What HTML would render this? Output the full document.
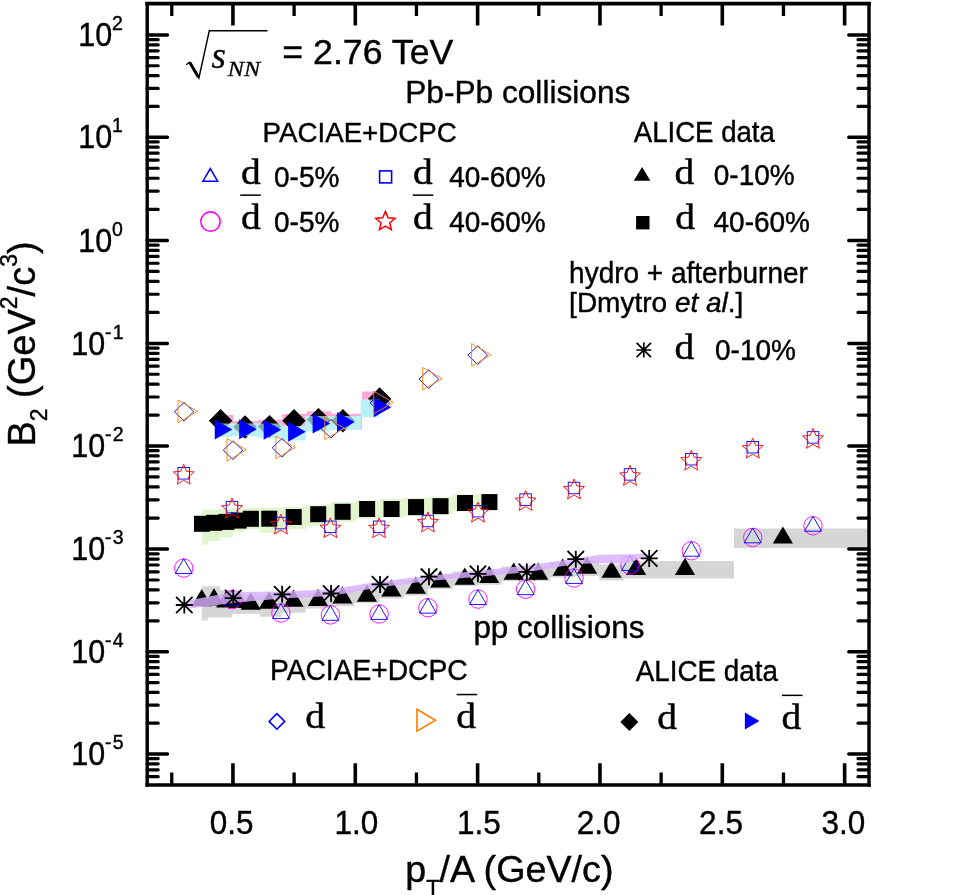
<!DOCTYPE html>
<html lang="en">
<head>
<meta charset="utf-8">
<title>B2 vs pT/A</title>
<style>
html,body{margin:0;padding:0;background:#fff;}
body{width:969px;height:895px;overflow:hidden;}
svg{display:block;}
text{white-space:pre;}
</style>
</head>
<body>
<svg width="969" height="895" viewBox="0 0 969 895">
<defs><clipPath id="clipplot"><rect x="147.2" y="3.7" width="721.8" height="781.3"/></clipPath></defs>
<rect x="0" y="0" width="969" height="895" fill="#fff"/>
<g id="plot" clip-path="url(#clipplot)">
<polygon points="202.25,509.8 208.37,509.8 208.37,509.5 220.6,509.5 220.6,509 232.84,509 232.84,508.5 245.07,508.5 245.07,508 260.36,508 260.36,507.6 281.77,507.6 281.77,506.7 306.24,506.7 306.24,504.8 330.71,504.8 330.71,502.3 355.18,502.3 355.18,500.4 379.65,500.4 379.65,498.8 404.11,498.8 404.11,498 428.58,498 428.58,496.7 453.05,496.7 453.05,494.4 477.52,494.4 477.52,493.8 489.75,493.8 489.75,509 477.52,509 477.52,511 453.05,511 453.05,514.2 428.58,514.2 428.58,516 404.11,516 404.11,517.5 379.65,517.5 379.65,519 355.18,519 355.18,522.1 330.71,522.1 330.71,526 306.24,526 306.24,529 281.77,529 281.77,532.7 260.36,532.7 260.36,529 245.07,529 245.07,531.7 232.84,531.7 232.84,537.3 220.6,537.3 220.6,541 208.37,541 208.37,544.7 202.25,544.7" fill="#e3f5cf"/>
<polygon points="201.75,586.2 207.87,586.2 207.87,586.2 220.1,586.2 220.1,590.3 232.34,590.3 232.34,594.8 244.57,594.8 244.57,596.5 259.86,596.5 259.86,595.6 281.27,595.6 281.27,593.5 305.74,593.5 305.74,592.7 330.21,592.7 330.21,590.2 354.68,590.2 354.68,588.5 379.15,588.5 379.15,583.3 403.61,583.3 403.61,580.6 428.08,580.6 428.08,574.4 452.55,574.4 452.55,571.5 477.02,571.5 477.02,569.8 501.49,569.8 501.49,566.5 525.95,566.5 525.95,566.5 550.42,566.5 550.42,562.5 574.89,562.5 574.89,560.5 599.36,560.5 599.36,564.6 623.83,564.6 623.83,561.4 660.53,561.4 660.53,560.9 733.93,560.9 733.93,528.5 869,528.5 869,548.1 733.93,548.1 733.93,578.5 660.53,578.5 660.53,578.4 623.83,578.4 623.83,580.5 599.36,580.5 599.36,575.9 574.89,575.9 574.89,577.5 550.42,577.5 550.42,581 525.95,581 525.95,581 501.49,581 501.49,584.7 477.02,584.7 477.02,586 452.55,586 452.55,588.9 428.08,588.9 428.08,595.5 403.61,595.5 403.61,598.4 379.15,598.4 379.15,603 354.68,603 354.68,606.3 330.21,606.3 330.21,608.5 305.74,608.5 305.74,612.8 281.27,612.8 281.27,616.8 259.86,616.8 259.86,613.8 244.57,613.8 244.57,613.8 232.34,613.8 232.34,617.5 220.1,617.5 220.1,617.5 207.87,617.5 207.87,620.4 201.75,620.4" fill="#d6d6d6"/>
<polygon points="201.75,589.1 211.85,606.3 191.65,606.3" fill="#000"/>
<polygon points="213.99,588.3 224.09,605.5 203.89,605.5" fill="#000"/>
<polygon points="226.22,590.4 236.32,607.6 216.12,607.6" fill="#000"/>
<polygon points="238.45,590.8 248.55,608 228.35,608" fill="#000"/>
<polygon points="250.69,592.5 260.79,609.7 240.59,609.7" fill="#000"/>
<polygon points="269.04,591.6 279.14,608.8 258.94,608.8" fill="#000"/>
<polygon points="293.51,589.5 303.61,606.7 283.41,606.7" fill="#000"/>
<polygon points="317.98,588.7 328.08,605.9 307.88,605.9" fill="#000"/>
<polygon points="342.44,586.2 352.54,603.4 332.34,603.4" fill="#000"/>
<polygon points="366.91,584.5 377.01,601.7 356.81,601.7" fill="#000"/>
<polygon points="391.38,579.3 401.48,596.5 381.28,596.5" fill="#000"/>
<polygon points="415.85,576.6 425.95,593.8 405.75,593.8" fill="#000"/>
<polygon points="440.32,570.4 450.42,587.6 430.22,587.6" fill="#000"/>
<polygon points="464.78,567.5 474.88,584.7 454.68,584.7" fill="#000"/>
<polygon points="489.25,565.8 499.35,583 479.15,583" fill="#000"/>
<polygon points="513.72,562.5 523.82,579.7 503.62,579.7" fill="#000"/>
<polygon points="538.19,562.5 548.29,579.7 528.09,579.7" fill="#000"/>
<polygon points="562.66,558.5 572.76,575.7 552.56,575.7" fill="#000"/>
<polygon points="587.12,556.5 597.22,573.7 577.02,573.7" fill="#000"/>
<polygon points="611.59,560.6 621.69,577.8 601.49,577.8" fill="#000"/>
<polygon points="636.06,557.7 646.16,574.9 625.96,574.9" fill="#000"/>
<polygon points="685,557.8 695.1,575 674.9,575" fill="#000"/>
<polygon points="782.87,526.4 792.97,543.6 772.77,543.6" fill="#000"/>
<circle cx="183.7" cy="568.1" r="9.2" fill="none" stroke="#f0f" stroke-width="0.9"/>
<polygon points="183.7,558.73 192.2,573.53 175.2,573.53" fill="none" stroke="#00f" stroke-width="0.9" stroke-linejoin="miter"/>
<circle cx="232" cy="599.7" r="9.2" fill="none" stroke="#f0f" stroke-width="0.9"/>
<polygon points="232,590.33 240.5,605.13 223.5,605.13" fill="none" stroke="#00f" stroke-width="0.9" stroke-linejoin="miter"/>
<circle cx="280.9" cy="613" r="9.2" fill="none" stroke="#f0f" stroke-width="0.9"/>
<polygon points="280.9,603.63 289.4,618.43 272.4,618.43" fill="none" stroke="#00f" stroke-width="0.9" stroke-linejoin="miter"/>
<circle cx="330.4" cy="614.9" r="9.2" fill="none" stroke="#f0f" stroke-width="0.9"/>
<polygon points="330.4,605.53 338.9,620.33 321.9,620.33" fill="none" stroke="#00f" stroke-width="0.9" stroke-linejoin="miter"/>
<circle cx="379.1" cy="614" r="9.2" fill="none" stroke="#f0f" stroke-width="0.9"/>
<polygon points="379.1,604.63 387.6,619.43 370.6,619.43" fill="none" stroke="#00f" stroke-width="0.9" stroke-linejoin="miter"/>
<circle cx="427.9" cy="607.7" r="9.2" fill="none" stroke="#f0f" stroke-width="0.9"/>
<polygon points="427.9,598.33 436.4,613.13 419.4,613.13" fill="none" stroke="#00f" stroke-width="0.9" stroke-linejoin="miter"/>
<circle cx="478" cy="599.1" r="9.2" fill="none" stroke="#f0f" stroke-width="0.9"/>
<polygon points="478,589.73 486.5,604.53 469.5,604.53" fill="none" stroke="#00f" stroke-width="0.9" stroke-linejoin="miter"/>
<circle cx="525.6" cy="589.2" r="9.2" fill="none" stroke="#f0f" stroke-width="0.9"/>
<polygon points="525.6,579.83 534.1,594.63 517.1,594.63" fill="none" stroke="#00f" stroke-width="0.9" stroke-linejoin="miter"/>
<circle cx="574" cy="578" r="9.2" fill="none" stroke="#f0f" stroke-width="0.9"/>
<polygon points="574,568.63 582.5,583.43 565.5,583.43" fill="none" stroke="#00f" stroke-width="0.9" stroke-linejoin="miter"/>
<circle cx="630" cy="565" r="9.2" fill="none" stroke="#f0f" stroke-width="0.9"/>
<polygon points="630,555.63 638.5,570.43 621.5,570.43" fill="none" stroke="#00f" stroke-width="0.9" stroke-linejoin="miter"/>
<circle cx="691.3" cy="550.8" r="9.2" fill="none" stroke="#f0f" stroke-width="0.9"/>
<polygon points="691.3,541.43 699.8,556.23 682.8,556.23" fill="none" stroke="#00f" stroke-width="0.9" stroke-linejoin="miter"/>
<circle cx="752.7" cy="537.4" r="9.2" fill="none" stroke="#f0f" stroke-width="0.9"/>
<polygon points="752.7,528.03 761.2,542.83 744.2,542.83" fill="none" stroke="#00f" stroke-width="0.9" stroke-linejoin="miter"/>
<circle cx="813" cy="525.8" r="9.2" fill="none" stroke="#f0f" stroke-width="0.9"/>
<polygon points="813,516.43 821.5,531.23 804.5,531.23" fill="none" stroke="#00f" stroke-width="0.9" stroke-linejoin="miter"/>
<polygon points="184.4,603.5 192,599.7 232.8,592 281.8,591.5 331,589.3 379.8,581.5 428.5,575.8 478,570.8 527,565.5 575.4,558.6 600,554.8 625,554.3 648.8,554 648.8,556.5 625,563.6 600,563.3 575.4,564 527,572.3 478,576.8 428.5,581 379.8,587.3 331,596 281.8,598.5 232.8,603 192,608.2 184.4,606.5" fill="#d5aefa" fill-opacity="0.82"/>
<rect x="193.95" y="515.8" width="16" height="16" fill="#000"/>
<rect x="206.19" y="514.8" width="16" height="16" fill="#000"/>
<rect x="218.42" y="513.9" width="16" height="16" fill="#000"/>
<rect x="230.65" y="512.6" width="16" height="16" fill="#000"/>
<rect x="242.89" y="510.8" width="16" height="16" fill="#000"/>
<rect x="261.24" y="510.7" width="16" height="16" fill="#000"/>
<rect x="285.71" y="509" width="16" height="16" fill="#000"/>
<rect x="310.18" y="506.2" width="16" height="16" fill="#000"/>
<rect x="334.64" y="503.8" width="16" height="16" fill="#000"/>
<rect x="359.11" y="501" width="16" height="16" fill="#000"/>
<rect x="383.58" y="501" width="16" height="16" fill="#000"/>
<rect x="408.05" y="499.1" width="16" height="16" fill="#000"/>
<rect x="432.52" y="498.2" width="16" height="16" fill="#000"/>
<rect x="456.98" y="495" width="16" height="16" fill="#000"/>
<rect x="481.45" y="494.1" width="16" height="16" fill="#000"/>
<polygon points="221.2,414.9 233.44,414.9 233.44,421 257.91,421 257.91,419.8 282.37,419.8 282.37,414 306.84,414 306.84,411.2 331.31,411.2 331.31,413.7 361.89,413.7 361.89,391.4 380.25,391.4 380.25,408 361.89,408 361.89,429.4 331.31,429.4 331.31,428 306.84,428 306.84,430 282.37,430 282.37,435 257.91,435 257.91,435 233.44,435 233.44,430 221.2,430" fill="#ffaad6"/>
<polygon points="220,423.5 232.24,423.5 232.24,423.5 256.71,423.5 256.71,423.5 281.17,423.5 281.17,426 305.64,426 305.64,416.1 330.11,416.1 330.11,416.1 360.69,416.1 360.69,399.6 379.05,399.6 379.05,417 360.69,417 360.69,429.4 330.11,429.4 330.11,431.3 305.64,431.3 305.64,440.3 281.17,440.3 281.17,437.7 256.71,437.7 256.71,436 232.24,436 232.24,437 220,437" fill="#b9f1f6"/>
<polygon points="220.6,409 232.3,420.7 220.6,432.4 208.9,420.7" fill="#000"/>
<polygon points="245.07,415.3 256.77,427 245.07,438.7 233.37,427" fill="#000"/>
<polygon points="269.54,414.9 281.24,426.6 269.54,438.3 257.84,426.6" fill="#000"/>
<polygon points="294.01,409.1 305.71,420.8 294.01,432.5 282.31,420.8" fill="#000"/>
<polygon points="318.48,407.9 330.18,419.6 318.48,431.3 306.78,419.6" fill="#000"/>
<polygon points="342.94,409 354.64,420.7 342.94,432.4 331.24,420.7" fill="#000"/>
<polygon points="379.65,387.2 391.35,398.9 379.65,410.6 367.95,398.9" fill="#000"/>
<polygon points="220,423.5 232.24,423.5 232.24,423.5 256.71,423.5 256.71,423.5 281.17,423.5 281.17,426 305.64,426 305.64,416.1 330.11,416.1 330.11,416.1 360.69,416.1 360.69,399.6 379.05,399.6 379.05,417 360.69,417 360.69,429.4 330.11,429.4 330.11,431.3 305.64,431.3 305.64,440.3 281.17,440.3 281.17,437.7 256.71,437.7 256.71,436 232.24,436 232.24,437 220,437" fill="#b9f1f6" fill-opacity="0.7"/>
<polygon points="214.74,419.4 232.34,429.4 214.74,439.4" fill="#00f"/>
<polygon points="239.21,419.3 256.81,429.3 239.21,439.3" fill="#00f"/>
<polygon points="263.67,419.7 281.27,429.7 263.67,439.7" fill="#00f"/>
<polygon points="288.14,421.7 305.74,431.7 288.14,441.7" fill="#00f"/>
<polygon points="312.61,413.6 330.21,423.6 312.61,433.6" fill="#00f"/>
<polygon points="337.08,412 354.68,422 337.08,432" fill="#00f"/>
<polygon points="373.78,397.3 391.38,407.3 373.78,417.3" fill="#00f"/>
<polygon points="184.1,402.39 193.9,411.7 184.1,421.01 174.3,411.7" fill="none" stroke="#00f" stroke-width="0.9"/>
<polygon points="178,400.05 197.5,411.3 178,422.55" fill="none" stroke="#ff8000" stroke-width="0.9"/>
<polygon points="233.04,440.89 242.84,450.2 233.04,459.51 223.24,450.2" fill="none" stroke="#00f" stroke-width="0.9"/>
<polygon points="226.94,438.55 246.44,449.8 226.94,461.05" fill="none" stroke="#ff8000" stroke-width="0.9"/>
<polygon points="281.97,438.49 291.77,447.8 281.97,457.11 272.17,447.8" fill="none" stroke="#00f" stroke-width="0.9"/>
<polygon points="275.87,436.15 295.37,447.4 275.87,458.65" fill="none" stroke="#ff8000" stroke-width="0.9"/>
<polygon points="330.91,419.39 340.71,428.7 330.91,438.01 321.11,428.7" fill="none" stroke="#00f" stroke-width="0.9"/>
<polygon points="324.81,417.05 344.31,428.3 324.81,439.55" fill="none" stroke="#ff8000" stroke-width="0.9"/>
<polygon points="379.85,393.59 389.65,402.9 379.85,412.21 370.05,402.9" fill="none" stroke="#00f" stroke-width="0.9"/>
<polygon points="373.75,391.25 393.25,402.5 373.75,413.75" fill="none" stroke="#ff8000" stroke-width="0.9"/>
<polygon points="428.78,369.79 438.58,379.1 428.78,388.41 418.98,379.1" fill="none" stroke="#00f" stroke-width="0.9"/>
<polygon points="422.68,367.45 442.18,378.7 422.68,389.95" fill="none" stroke="#ff8000" stroke-width="0.9"/>
<polygon points="477.72,345.89 487.52,355.2 477.72,364.51 467.92,355.2" fill="none" stroke="#00f" stroke-width="0.9"/>
<polygon points="471.62,343.55 491.12,354.8 471.62,366.05" fill="none" stroke="#ff8000" stroke-width="0.9"/>
<rect x="177.95" y="467.55" width="11.5" height="11.5" fill="none" stroke="#00f" stroke-width="0.9"/>
<polygon points="183.7,464.3 186.61,471.3 194.16,471.9 188.41,476.83 190.17,484.2 183.7,480.25 177.23,484.2 178.99,476.83 173.24,471.9 180.79,471.3" fill="none" stroke="#f00" stroke-width="0.9"/>
<rect x="226.25" y="501.35" width="11.5" height="11.5" fill="none" stroke="#00f" stroke-width="0.9"/>
<polygon points="232,498.1 234.91,505.1 242.46,505.7 236.71,510.63 238.47,518 232,514.05 225.53,518 227.29,510.63 221.54,505.7 229.09,505.1" fill="none" stroke="#f00" stroke-width="0.9"/>
<rect x="275.15" y="517.35" width="11.5" height="11.5" fill="none" stroke="#00f" stroke-width="0.9"/>
<polygon points="280.9,514.1 283.81,521.1 291.36,521.7 285.61,526.63 287.37,534 280.9,530.05 274.43,534 276.19,526.63 270.44,521.7 277.99,521.1" fill="none" stroke="#f00" stroke-width="0.9"/>
<rect x="324.65" y="521.05" width="11.5" height="11.5" fill="none" stroke="#00f" stroke-width="0.9"/>
<polygon points="330.4,517.8 333.31,524.8 340.86,525.4 335.11,530.33 336.87,537.7 330.4,533.75 323.93,537.7 325.69,530.33 319.94,525.4 327.49,524.8" fill="none" stroke="#f00" stroke-width="0.9"/>
<rect x="373.35" y="521.05" width="11.5" height="11.5" fill="none" stroke="#00f" stroke-width="0.9"/>
<polygon points="379.1,517.8 382.01,524.8 389.56,525.4 383.81,530.33 385.57,537.7 379.1,533.75 372.63,537.7 374.39,530.33 368.64,525.4 376.19,524.8" fill="none" stroke="#f00" stroke-width="0.9"/>
<rect x="422.15" y="515.25" width="11.5" height="11.5" fill="none" stroke="#00f" stroke-width="0.9"/>
<polygon points="427.9,512 430.81,519 438.36,519.6 432.61,524.53 434.37,531.9 427.9,527.95 421.43,531.9 423.19,524.53 417.44,519.6 424.99,519" fill="none" stroke="#f00" stroke-width="0.9"/>
<rect x="472.25" y="505.45" width="11.5" height="11.5" fill="none" stroke="#00f" stroke-width="0.9"/>
<polygon points="478,502.2 480.91,509.2 488.46,509.8 482.71,514.73 484.47,522.1 478,518.15 471.53,522.1 473.29,514.73 467.54,509.8 475.09,509.2" fill="none" stroke="#f00" stroke-width="0.9"/>
<rect x="519.85" y="493.85" width="11.5" height="11.5" fill="none" stroke="#00f" stroke-width="0.9"/>
<polygon points="525.6,490.6 528.51,497.6 536.06,498.2 530.31,503.13 532.07,510.5 525.6,506.55 519.13,510.5 520.89,503.13 515.14,498.2 522.69,497.6" fill="none" stroke="#f00" stroke-width="0.9"/>
<rect x="568.25" y="482.25" width="11.5" height="11.5" fill="none" stroke="#00f" stroke-width="0.9"/>
<polygon points="574,479 576.91,486 584.46,486.6 578.71,491.53 580.47,498.9 574,494.95 567.53,498.9 569.29,491.53 563.54,486.6 571.09,486" fill="none" stroke="#f00" stroke-width="0.9"/>
<rect x="624.25" y="468.65" width="11.5" height="11.5" fill="none" stroke="#00f" stroke-width="0.9"/>
<polygon points="630,465.4 632.91,472.4 640.46,473 634.71,477.93 636.47,485.3 630,481.35 623.53,485.3 625.29,477.93 619.54,473 627.09,472.4" fill="none" stroke="#f00" stroke-width="0.9"/>
<rect x="685.55" y="453.45" width="11.5" height="11.5" fill="none" stroke="#00f" stroke-width="0.9"/>
<polygon points="691.3,450.2 694.21,457.2 701.76,457.8 696.01,462.73 697.77,470.1 691.3,466.15 684.83,470.1 686.59,462.73 680.84,457.8 688.39,457.2" fill="none" stroke="#f00" stroke-width="0.9"/>
<rect x="746.95" y="441.45" width="11.5" height="11.5" fill="none" stroke="#00f" stroke-width="0.9"/>
<polygon points="752.7,438.2 755.61,445.2 763.16,445.8 757.41,450.73 759.17,458.1 752.7,454.15 746.23,458.1 747.99,450.73 742.24,445.8 749.79,445.2" fill="none" stroke="#f00" stroke-width="0.9"/>
<rect x="807.25" y="431.65" width="11.5" height="11.5" fill="none" stroke="#00f" stroke-width="0.9"/>
<polygon points="813,428.4 815.91,435.4 823.46,436 817.71,440.93 819.47,448.3 813,444.35 806.53,448.3 808.29,440.93 802.54,436 810.09,435.4" fill="none" stroke="#f00" stroke-width="0.9"/>
<path d="M175.8,605 L192.8,605 M184.3,596.5 L184.3,613.5 M176.1,596.8 L192.5,613.2 M176.1,613.2 L192.5,596.8" stroke="#000" stroke-width="1.8" fill="none"/>
<path d="M224.74,598.1 L241.74,598.1 M233.24,589.6 L233.24,606.6 M225.04,589.9 L241.44,606.3 M225.04,606.3 L241.44,589.9" stroke="#000" stroke-width="1.8" fill="none"/>
<path d="M273.67,594.3 L290.67,594.3 M282.17,585.8 L282.17,602.8 M273.97,586.1 L290.38,602.5 M273.97,602.5 L290.38,586.1" stroke="#000" stroke-width="1.8" fill="none"/>
<path d="M322.61,593.5 L339.61,593.5 M331.11,585 L331.11,602 M322.91,585.3 L339.31,601.7 M322.91,601.7 L339.31,585.3" stroke="#000" stroke-width="1.8" fill="none"/>
<path d="M371.55,584.4 L388.55,584.4 M380.05,575.9 L380.05,592.9 M371.84,576.2 L388.25,592.6 M371.84,592.6 L388.25,576.2" stroke="#000" stroke-width="1.8" fill="none"/>
<path d="M420.48,576.7 L437.48,576.7 M428.98,568.2 L428.98,585.2 M420.78,568.5 L437.18,584.9 M420.78,584.9 L437.18,568.5" stroke="#000" stroke-width="1.8" fill="none"/>
<path d="M469.42,573.8 L486.42,573.8 M477.92,565.3 L477.92,582.3 M469.72,565.6 L486.12,582 M469.72,582 L486.12,565.6" stroke="#000" stroke-width="1.8" fill="none"/>
<path d="M518.35,571.9 L535.35,571.9 M526.85,563.4 L526.85,580.4 M518.65,563.7 L535.06,580.1 M518.65,580.1 L535.06,563.7" stroke="#000" stroke-width="1.8" fill="none"/>
<path d="M567.29,559.2 L584.29,559.2 M575.79,550.7 L575.79,567.7 M567.59,551 L583.99,567.4 M567.59,567.4 L583.99,551" stroke="#000" stroke-width="1.8" fill="none"/>
<path d="M640.69,558.4 L657.69,558.4 M649.19,549.9 L649.19,566.9 M640.99,550.2 L657.4,566.6 M640.99,566.6 L657.4,550.2" stroke="#000" stroke-width="1.8" fill="none"/>
</g>
<g stroke="#000" fill="none" stroke-linecap="round">
<path d="M147.2,3.7 V785 M869,3.7 V785" stroke-width="3.4" stroke-linecap="square"/>
<path d="M147.2,3.7 H869 M147.2,785 H869" stroke-width="3.7" stroke-linecap="square"/>
<path d="M232.94,3.7 v21.7 M232.94,785 v-21.7 M355.28,3.7 v21.7 M355.28,785 v-21.7 M477.62,3.7 v21.7 M477.62,785 v-21.7 M599.96,3.7 v21.7 M599.96,785 v-21.7 M722.3,3.7 v21.7 M722.3,785 v-21.7 M844.64,3.7 v21.7 M844.64,785 v-21.7" stroke-width="3.6" stroke-linecap="butt"/>
<path d="M171.77,3.7 v12.4 M171.77,785 v-12.4 M294.11,3.7 v12.4 M294.11,785 v-12.4 M416.45,3.7 v12.4 M416.45,785 v-12.4 M538.79,3.7 v12.4 M538.79,785 v-12.4 M661.13,3.7 v12.4 M661.13,785 v-12.4 M783.47,3.7 v12.4 M783.47,785 v-12.4" stroke-width="3.3" stroke-linecap="butt"/>
<path d="M147.2,753.9 h20.2 M869,753.9 h-20.2 M147.2,651.8 h20.2 M869,651.8 h-20.2 M147.2,549.1 h20.2 M869,549.1 h-20.2 M147.2,445.9 h20.2 M869,445.9 h-20.2 M147.2,343.4 h20.2 M869,343.4 h-20.2 M147.2,240.4 h20.2 M869,240.4 h-20.2 M147.2,137.2 h20.2 M869,137.2 h-20.2 M147.2,35 h20.2 M869,35 h-20.2" stroke-width="3.5"/>
<path d="M147.2,776.68 h11 M869,776.68 h-11 M147.2,769.81 h11 M869,769.81 h-11 M147.2,763.85 h11 M869,763.85 h-11 M147.2,758.6 h11 M869,758.6 h-11 M147.2,723.16 h11 M869,723.16 h-11 M147.2,705.19 h11 M869,705.19 h-11 M147.2,692.43 h11 M869,692.43 h-11 M147.2,682.54 h11 M869,682.54 h-11 M147.2,674.45 h11 M869,674.45 h-11 M147.2,667.62 h11 M869,667.62 h-11 M147.2,661.69 h11 M869,661.69 h-11 M147.2,656.47 h11 M869,656.47 h-11 M147.2,620.88 h11 M869,620.88 h-11 M147.2,602.8 h11 M869,602.8 h-11 M147.2,589.97 h11 M869,589.97 h-11 M147.2,580.02 h11 M869,580.02 h-11 M147.2,571.88 h11 M869,571.88 h-11 M147.2,565.01 h11 M869,565.01 h-11 M147.2,559.05 h11 M869,559.05 h-11 M147.2,553.8 h11 M869,553.8 h-11 M147.2,518.03 h11 M869,518.03 h-11 M147.2,499.86 h11 M869,499.86 h-11 M147.2,486.97 h11 M869,486.97 h-11 M147.2,476.97 h11 M869,476.97 h-11 M147.2,468.79 h11 M869,468.79 h-11 M147.2,461.89 h11 M869,461.89 h-11 M147.2,455.9 h11 M869,455.9 h-11 M147.2,450.62 h11 M869,450.62 h-11 M147.2,415.04 h11 M869,415.04 h-11 M147.2,397 h11 M869,397 h-11 M147.2,384.19 h11 M869,384.19 h-11 M147.2,374.26 h11 M869,374.26 h-11 M147.2,366.14 h11 M869,366.14 h-11 M147.2,359.28 h11 M869,359.28 h-11 M147.2,353.33 h11 M869,353.33 h-11 M147.2,348.09 h11 M869,348.09 h-11 M147.2,312.39 h11 M869,312.39 h-11 M147.2,294.26 h11 M869,294.26 h-11 M147.2,281.39 h11 M869,281.39 h-11 M147.2,271.41 h11 M869,271.41 h-11 M147.2,263.25 h11 M869,263.25 h-11 M147.2,256.35 h11 M869,256.35 h-11 M147.2,250.38 h11 M869,250.38 h-11 M147.2,245.11 h11 M869,245.11 h-11 M147.2,209.33 h11 M869,209.33 h-11 M147.2,191.16 h11 M869,191.16 h-11 M147.2,178.27 h11 M869,178.27 h-11 M147.2,168.27 h11 M869,168.27 h-11 M147.2,160.09 h11 M869,160.09 h-11 M147.2,153.19 h11 M869,153.19 h-11 M147.2,147.2 h11 M869,147.2 h-11 M147.2,141.92 h11 M869,141.92 h-11 M147.2,106.43 h11 M869,106.43 h-11 M147.2,88.44 h11 M869,88.44 h-11 M147.2,75.67 h11 M869,75.67 h-11 M147.2,65.77 h11 M869,65.77 h-11 M147.2,57.67 h11 M869,57.67 h-11 M147.2,50.83 h11 M869,50.83 h-11 M147.2,44.9 h11 M869,44.9 h-11 M147.2,39.68 h11 M869,39.68 h-11" stroke-width="3.2"/>
</g>
<g font-family="'Liberation Sans', Arial, sans-serif" fill="#000" stroke="#000" stroke-width="0.4">
<text transform="translate(112.1,46.1) scale(1,1.08)" font-size="30.5" text-anchor="end">10</text>
<text transform="translate(112.1,30.2) scale(1,1.06)" font-size="19.5">2</text>
<text transform="translate(112.1,148.3) scale(1,1.08)" font-size="30.5" text-anchor="end">10</text>
<text transform="translate(112.1,132.4) scale(1,1.06)" font-size="19.5">1</text>
<text transform="translate(112.1,251.5) scale(1,1.08)" font-size="30.5" text-anchor="end">10</text>
<text transform="translate(112.1,235.6) scale(1,1.06)" font-size="19.5">0</text>
<text transform="translate(105.2,354.5) scale(1,1.08)" font-size="30.5" text-anchor="end">10</text>
<text transform="translate(104.9,338.6) scale(1,1.06)" font-size="19.5">-<tspan dx="1.3">1</tspan></text>
<text transform="translate(105.2,457) scale(1,1.08)" font-size="30.5" text-anchor="end">10</text>
<text transform="translate(104.9,441.1) scale(1,1.06)" font-size="19.5">-<tspan dx="1.3">2</tspan></text>
<text transform="translate(105.2,560.2) scale(1,1.08)" font-size="30.5" text-anchor="end">10</text>
<text transform="translate(104.9,544.3) scale(1,1.06)" font-size="19.5">-<tspan dx="1.3">3</tspan></text>
<text transform="translate(105.2,662.9) scale(1,1.08)" font-size="30.5" text-anchor="end">10</text>
<text transform="translate(104.9,647) scale(1,1.06)" font-size="19.5">-<tspan dx="1.3">4</tspan></text>
<text transform="translate(105.2,765) scale(1,1.08)" font-size="30.5" text-anchor="end">10</text>
<text transform="translate(104.9,749.1) scale(1,1.06)" font-size="19.5">-<tspan dx="1.3">5</tspan></text>
<text transform="translate(231.64,834.3) scale(1,1.03)" font-size="31.5" text-anchor="middle">0.5</text>
<text transform="translate(356.48,834.3) scale(1,1.03)" font-size="31.5" text-anchor="middle">1.0</text>
<text transform="translate(478.82,834.3) scale(1,1.03)" font-size="31.5" text-anchor="middle">1.5</text>
<text transform="translate(598.66,834.3) scale(1,1.03)" font-size="31.5" text-anchor="middle">2.0</text>
<text transform="translate(721,834.3) scale(1,1.03)" font-size="31.5" text-anchor="middle">2.5</text>
<text transform="translate(843.34,834.3) scale(1,1.03)" font-size="31.5" text-anchor="middle">3.0</text>
<text transform="translate(405.2,882) scale(1,1)" font-size="37.7">p<tspan font-size="22" dy="12.5">T</tspan><tspan dy="-12.5">/A (GeV/c)</tspan></text>
<text transform="translate(35.3,446.6) rotate(-90)" font-size="38">B<tspan font-size="23" dy="11.8">2</tspan><tspan dy="-11.8"> (GeV</tspan><tspan font-size="23" dy="-18.2">2</tspan><tspan dy="18.2">/c</tspan><tspan font-size="23" dy="-18.2">3</tspan><tspan dy="18.2">)</tspan></text>
<text transform="translate(282.3,64.3) scale(1,1)" font-size="35.7">= 2.76 TeV</text>
<text transform="translate(405.2,102.7) scale(1,1)" font-size="31.65">Pb-Pb collisions</text>
<text transform="translate(262.6,142.3) scale(1,1.02)" font-size="27.7">PACIAE+DCPC</text>
<text transform="translate(633.8,142.4) scale(1,1.05)" font-size="27.6">ALICE data</text>
<text transform="translate(274,187.2) scale(1,1.05)" font-size="28">0-5%</text>
<text transform="translate(274,231.7) scale(1,1.05)" font-size="28">0-5%</text>
<text transform="translate(449.2,187.2) scale(1,1.05)" font-size="28">40-60%</text>
<text transform="translate(449.2,231.7) scale(1,1.05)" font-size="28">40-60%</text>
<text transform="translate(713.8,185.4) scale(1,1.06)" font-size="28">0-10%</text>
<text transform="translate(713.5,232.3) scale(1,1.08)" font-size="28">40-60%</text>
<text transform="translate(569.1,283.2) scale(1,1.03)" font-size="28">hydro + afterburner</text>
<text transform="translate(569.1,312.1) scale(1,1)" font-size="28">[Dmytro <tspan font-style="italic">et al</tspan>.]</text>
<text transform="translate(715,360.4) scale(1,1.03)" font-size="28">0-10%</text>
<text transform="translate(473.4,637.6) scale(1,1)" font-size="31.4">pp collisions</text>
<text transform="translate(270,679.7) scale(1,1.02)" font-size="28.2">PACIAE+DCPC</text>
<text transform="translate(635.7,680.5) scale(1,1.03)" font-size="27.8">ALICE data</text>
</g>
<g font-family="'Liberation Serif', 'Times New Roman', serif" fill="#000" stroke="#000" stroke-width="0.45" font-size="35.8">
<text transform="translate(241,184) scale(1.1,1)">d</text>
<text transform="translate(241,228.6) scale(1.1,1)">d</text>
<rect x="240.2" y="194.4" width="20.6" height="1.5" stroke="none"/>
<text transform="translate(413,184) scale(1.1,1)">d</text>
<text transform="translate(413,228.6) scale(1.1,1)">d</text>
<rect x="412.7" y="194.4" width="20.6" height="1.5" stroke="none"/>
<text transform="translate(674.5,184) scale(1.1,1)">d</text>
<text transform="translate(675.3,228.6) scale(1.1,1)">d</text>
<text transform="translate(674.6,358.5) scale(1.1,1)">d</text>
<text transform="translate(305.3,728) scale(1.1,1)">d</text>
<text transform="translate(456.2,728) scale(1.1,1)">d</text>
<rect x="456.6" y="693.8" width="20.6" height="1.5" stroke="none"/>
<text transform="translate(657.2,728.8) scale(1.1,1)">d</text>
<text transform="translate(781.5,728.8) scale(1.1,1)">d</text>
<rect x="781.9" y="694.6" width="20.6" height="1.5" stroke="none"/>
</g>
<g font-family="'Liberation Serif', 'Times New Roman', serif" fill="#000" font-style="italic" stroke="#000" stroke-width="0.3">
<text x="211.5" y="68" font-size="37">s</text>
<text transform="translate(227.8,76) scale(1.1,1)" font-size="22">NN</text>
</g>
<path d="M186.2,64.8 L189.5,62.2 L198.9,78 L209.3,30.8 L267.5,30.8" fill="none" stroke="#000" stroke-width="1.4" stroke-linejoin="miter"/>
<path d="M189.8,62.5 L198.3,77" fill="none" stroke="#000" stroke-width="3"/>
<polygon points="210.3,168.6 217.6,181.2 203,181.2" fill="none" stroke="#00f" stroke-width="1.6" stroke-linejoin="miter"/>
<circle cx="210.5" cy="221.6" r="9.7" fill="none" stroke="#f0f" stroke-width="1.6"/>
<rect x="379.6" y="170.9" width="12" height="12" fill="none" stroke="#00f" stroke-width="1.6"/>
<polygon points="385.4,211.4 388.07,217.82 395.01,218.38 389.72,222.9 391.34,229.67 385.4,226.04 379.46,229.67 381.08,222.9 375.79,218.38 382.73,217.82" fill="none" stroke="#f00" stroke-width="1.5"/>
<polygon points="642.1,167 650.4,180.8 633.8,180.8" fill="#000"/>
<rect x="636.1" y="216" width="13.4" height="13.4" fill="#000"/>
<path d="M636.4,350 L651.2,350 M643.8,342.6 L643.8,357.4 M636.66,342.86 L650.94,357.14 M636.66,357.14 L650.94,342.86" stroke="#000" stroke-width="1.7" fill="none"/>
<polygon points="276.9,713.6 284.7,721.4 276.9,729.2 269.1,721.4" fill="none" stroke="#00f" stroke-width="1.6"/>
<polygon points="416.93,709.3 435.43,720.2 416.93,731.1" fill="none" stroke="#ff8000" stroke-width="1.6"/>
<polygon points="629.3,712.9 638.3,721.9 629.3,730.9 620.3,721.9" fill="#000"/>
<polygon points="744.87,712.6 759.37,721 744.87,729.4" fill="#00f"/>
</svg>
</body>
</html>
